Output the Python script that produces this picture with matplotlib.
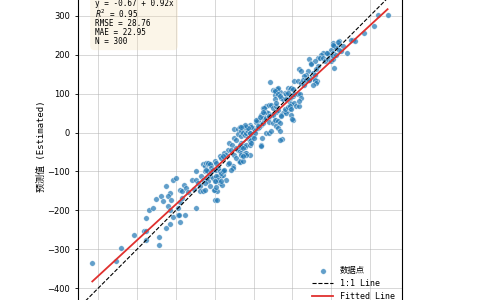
import matplotlib
matplotlib.use('Agg')
import matplotlib.pyplot as plt
import numpy as np

observed = [
    -415, -355, -340, -307, -283, -276, -278, -276, -269, -260,
    -250, -237, -233, -243, -243, -224, -216, -220, -212, -207,
    -220, -216, -216, -224, -206, -190, -195, -200, -190, -185,
    -180, -173, -169, -190, -183, -195, -192, -177, -149, -158,
    -147, -154, -143, -139, -137, -130, -126, -131, -126, -122,
    -118, -126, -120, -115, -134, -130, -123, -117, -147, -100,
    -95, -99, -94, -53, -38, -87, -80, -70, -77, -66,
    -62, -111, -105, -126, -113, -92, -83, -79, -96, -109,
    -49, -40, -32, -28, -40, -33, -51, -44, -62, -56,
    -32, -28, -44, -40, -36, -32, -28, -66, -59, -75,
    -70, -87, -83, -79, -49, -44, -36, -53, -59, -100,
    -96, -117, -113, -109, -117, -109, -105, -96, -92, -87,
    -83, -79, -75, -96, -92, -100, -83, -102, -96, -122,
    43, 50, 57, 60, 54, 24, 33, 41, 46, 50,
    57, 58, 62, 33, 37, 28, 20, 24, 33, 39,
    41, 50, 57, 46, 50, 15, 20, 24, 11, 7,
    -2, 3, 11, 15, -10, -6, 33, 41, 46, -36,
    -28, -23, -19, -32, -28, -23, -19, -15, -10, -6,
    -2, -15, -10, -6, -23, -19, -10, -6, 20, 22,
    -36, -32, -28, -32, -23, -19, -36, -28, -10, -19,
    -28, 54, 60, 67, 74, 20, 7, 11, 3, 0,
    144, 148, 118, 123, 140, 135, 148, 144, 131, 105,
    114, 123, 131, 88, 93, 97, 101, 80, 84, 88,
    62, 54, 71, 77, 84, 93, 101, 105, 114, 93,
    97, 105, 110, 118, 62, 67, 54, 58, 84, 88,
    93, 80, 75, 84, 71, 97, 101, 54, 62, 67,
    58, 62, 67, 67, 127, 135, 157, 163, 120, 123,
    116, 99, 28, 24, 16, 80, 88, 93, 97, 71,
    255, 251, 219, 217, 204, 208, 213, 230, 225, 221,
    200, 204, 195, 187, 178, 174, 165, 170, 178, 183,
    191, 200, 204, 157, 148, 208, 204, 213, 165, 161,
    153, 157, 157, 161, 153, 144, 240, 188, 204, 217,
    320, 345, 311, 285, 260, 39, -15, -23, -33, -8,
]
estimated = [
    -335, -331, -296, -262, -252, -252, -275, -219, -198, -194,
    -170, -162, -175, -269, -288, -138, -155, -164, -172, -122,
    -189, -200, -236, -245, -218, -230, -213, -118, -147, -150,
    -134, -142, -153, -179, -168, -194, -211, -211, -195, -123,
    -121, -145, -129, -138, -151, -151, -147, -82, -87, -78,
    -82, -99, -99, -104, -112, -121, -116, -125, -99, -147,
    -150, -172, -174, -87, -74, -129, -134, -121, -99, -82,
    -78, -112, -116, -129, -138, -111, -112, -108, -125, -87,
    10, 8, 10, 12, -5, -10, -14, -18, -27, -31,
    -27, -35, -39, -44, -48, -52, -57, -44, -44, -52,
    -57, -61, -65, -61, -57, -65, -74, -90, -95, -74,
    -78, -78, -82, -92, -99, -99, -95, -95, -91, -99,
    -104, -99, -95, -112, -121, -125, -125, -147, -140, -95,
    131, 110, 105, 110, 97, 62, 67, 71, 71, 62,
    67, 54, 58, 54, 50, 50, 45, 37, 37, 39,
    28, 24, 33, 45, 45, 24, 20, 24, 33, 28,
    11, 7, 11, 15, 20, 15, -2, -2, 3, 15,
    15, 11, 15, 3, -2, -6, -2, 3, -2, -6,
    -10, -15, -23, -19, -36, -32, -32, -27, -32, -15,
    -32, -36, -40, -57, -53, -53, -75, -73, -57, -57,
    -61, 109, 112, 104, -16, -35, 33, 18, -2, -15,
    188, 179, 162, 158, 158, 149, 141, 134, 145, 132,
    132, 128, 123, 115, 111, 115, 111, 102, 98, 102,
    115, 106, 89, 85, 85, 89, 93, 98, 98, 76,
    72, 76, 68, 68, 98, 93, 85, 76, 59, 59,
    64, 55, 51, 51, 46, 46, 33, 33, 29, 25,
    16, 12, 3, -18, 134, 136, 132, 132, 98, 89,
    80, 35, 63, 53, 40, 60, 65, 69, 60, 42,
    237, 237, 235, 226, 231, 222, 218, 222, 209, 213,
    213, 205, 200, 205, 205, 200, 192, 192, 192, 183,
    188, 183, 188, 183, 175, 166, 196, 200, 170, 162,
    153, 149, 136, 128, 123, 136, 205, 205, 224, 232,
    301, 301, 273, 256, 235, 43, 11, 19, 14, 0,
]

intercept = -0.67
slope = 0.92
stats_lines = ["y = -0.67 + 0.92x", "$R^2$ = 0.95", "RMSE = 28.76", "MAE = 22.95", "N = 300"]
y_label = "预测值 (Estimated)"
legend_labels = ["数据点", "1:1 Line", "Fitted Line"]
yticks = [-400, -300, -200, -100, 0, 100, 200, 300]
lims = [-453, 383]

mono_cjk = ['DejaVu Sans Mono', 'Noto Sans CJK SC']

fig = plt.figure(figsize=(4.8, 3.0), dpi=100)
# el eje es cuadrado y queda recortado arriba y abajo
ax = fig.add_axes([0.1615, -0.0297, 0.6767, 1.085])
ax.grid(True, color='#b0b0b0', alpha=0.5, lw=0.7)
ax.set_axisbelow(True)

pts = ax.scatter(observed, estimated, s=16, c='#1f77b4', alpha=0.7,
                 edgecolors='white', linewidths=0.4, zorder=3)
line11, = ax.plot(lims, lims, 'k--', lw=0.8, zorder=4)
xs = np.array([min(observed), max(observed)])
fit, = ax.plot(xs, intercept + slope * xs, color='#e0302e', lw=1.3, zorder=5)

ax.set_xlim(lims)
ax.set_ylim(lims)
ax.set_yticks(yticks)
ax.tick_params(labelsize=6, length=2, width=0.6)
ax.tick_params(axis='x', labelbottom=False)  # queda fuera de la imagen
for s in ax.spines.values():
    s.set_linewidth(0.8)
ax.set_ylabel(y_label, family=mono_cjk, fontsize=6.5)
ax.yaxis.set_label_coords(-0.097, 0.5)

ax.text(0.053, 0.953, "\n".join(stats_lines), transform=ax.transAxes,
        va='top', ha='left', family=mono_cjk, fontsize=5.5, linespacing=0.95,
        bbox=dict(boxstyle='round,pad=0.6', facecolor='wheat', alpha=0.3,
                  edgecolor='none'), zorder=6)

ax.legend([pts, line11, fit], legend_labels, loc='lower right', frameon=False,
          prop={'family': mono_cjk, 'size': 6}, handlelength=2.5,
          scatterpoints=1)

fig.savefig('out.png', dpi=100)
